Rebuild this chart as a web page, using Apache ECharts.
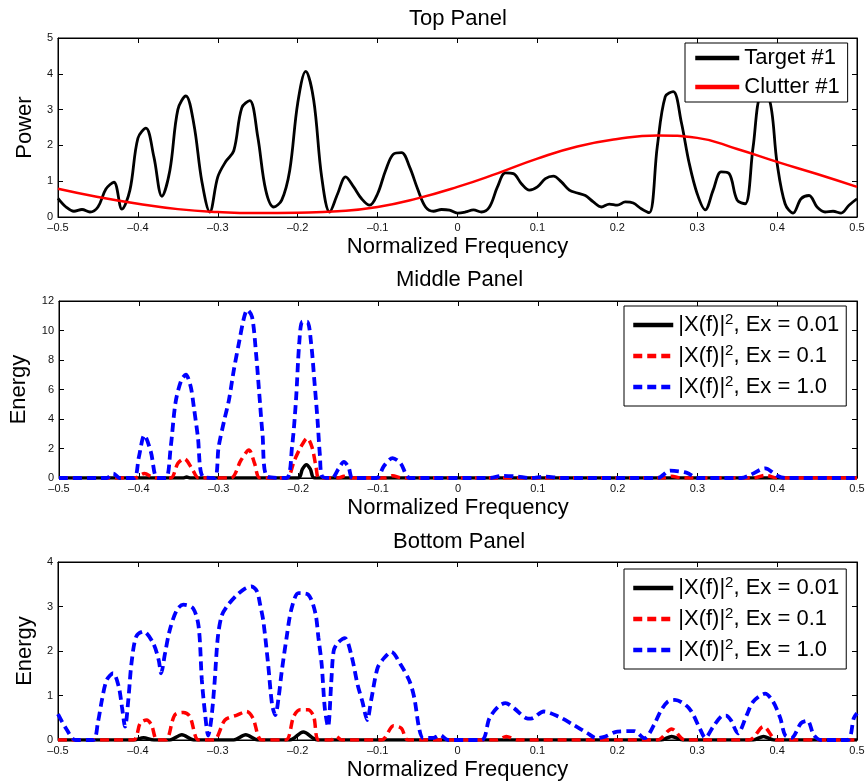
<!DOCTYPE html>
<html>
<head>
<meta charset="utf-8">
<title>Panels</title>
<script src="https://cdn.jsdelivr.net/npm/echarts@6/dist/echarts.min.js"></script>
<style>
    html, body { margin: 0; padding: 0; background: #fff; }
    #chart { width: 868px; height: 783px; }
</style>
</head>
<body>
<div id="chart"></div>
<script>
// ---- data ----
// top panel: target power on a 0.01 grid
const targetFreq = [];
for (let k = 0; k <= 100; k++) targetFreq.push(+(-0.5 + k * 0.01).toFixed(2));
const targetPower = [
    0.52, 0.28, 0.16, 0.21, 0.14, 0.28, 0.78, 0.97, 0.22, 0.75,
    2.2, 2.48, 1.68, 0.58, 1.3, 3.0, 3.38, 2.6, 1.0, 0.14,
    1.12, 1.55, 1.85, 3.05, 3.25, 2.24, 0.75, 0.28, 0.47, 1.3,
    3.18, 4.07, 3.27, 1.12, 0.14, 0.65, 1.12, 0.84, 0.51, 0.33,
    0.65, 1.3, 1.76, 1.8, 1.4, 0.79, 0.28, 0.16, 0.21, 0.19,
    0.11, 0.14, 0.2, 0.14, 0.28, 0.84, 1.23, 1.21, 0.93, 0.75,
    0.84, 1.07, 1.14, 0.98, 0.75, 0.67, 0.6, 0.42, 0.28, 0.36,
    0.33, 0.42, 0.39, 0.23, 0.12, 1.96, 3.36, 3.5, 2.66, 1.5,
    0.65, 0.2, 0.75, 1.26, 1.21, 0.47, 0.37, 1.96, 3.35, 3.3,
    1.5, 0.37, 0.11, 0.51, 0.6, 0.28, 0.14, 0.16, 0.11, 0.33,
    0.51
];
// top panel: clutter on a 0.05 grid
const clutterFreq = [-0.5, -0.45, -0.4, -0.35, -0.3, -0.25, -0.2, -0.15, -0.1, -0.05, 0,
    0.05, 0.1, 0.15, 0.2, 0.25, 0.3, 0.35, 0.4, 0.45, 0.5];
const clutterPower = [0.79, 0.56, 0.37, 0.22, 0.14, 0.11, 0.12, 0.16, 0.28, 0.52, 0.84,
    1.22, 1.63, 1.97, 2.18, 2.28, 2.21, 1.9, 1.54, 1.2, 0.84];

// middle panel: [frequency, energy]
const midEx001 = [[-0.5, 0], [-0.345, 0], [-0.34, 0.06], [-0.335, 0], [-0.2, 0], [-0.195, 0.6],
    [-0.19, 0.9], [-0.185, 0.6], [-0.18, 0], [0.5, 0]];
const midEx01 = [[-0.5, 0], [-0.405, 0], [-0.393, 0.3], [-0.38, 0], [-0.36, 0], [-0.351, 1.0],
    [-0.343, 1.3], [-0.333, 0.6], [-0.325, 0], [-0.285, 0], [-0.272, 1.2], [-0.262, 1.9],
    [-0.255, 1.0], [-0.248, 0], [-0.215, 0], [-0.205, 1.2], [-0.197, 2.1], [-0.189, 2.7],
    [-0.183, 2.1], [-0.178, 0.8], [-0.174, 0], [-0.15, 0], [-0.143, 0.12], [-0.135, 0],
    [-0.09, 0], [-0.082, 0.15], [-0.07, 0], [0.26, 0], [0.268, 0.12], [0.28, 0],
    [0.37, 0], [0.385, 0.18], [0.4, 0], [0.5, 0]];
const midEx1 = [[-0.5, 0], [-0.44, 0], [-0.432, 0.3], [-0.424, 0], [-0.406, 0], [-0.4, 1.4],
    [-0.393, 2.9], [-0.385, 1.8], [-0.377, 0], [-0.366, 0], [-0.36, 2.1], [-0.354, 5.1],
    [-0.347, 6.6], [-0.341, 7.0], [-0.335, 6.2], [-0.331, 4.8], [-0.326, 2.8], [-0.32, 0.1],
    [-0.305, 0], [-0.3, 2.1], [-0.293, 3.9], [-0.287, 5.3], [-0.281, 7.3], [-0.274, 9.3],
    [-0.268, 10.9], [-0.264, 11.4], [-0.258, 10.9], [-0.253, 8.4], [-0.249, 5.7], [-0.245, 3.0],
    [-0.239, 0.1], [-0.215, 0], [-0.208, 2.1], [-0.203, 5.3], [-0.199, 9.1], [-0.195, 10.6],
    [-0.189, 10.6], [-0.184, 9.1], [-0.18, 6.6], [-0.176, 3.9], [-0.173, 1.5], [-0.17, 0.1],
    [-0.158, 0], [-0.15, 0.6], [-0.143, 1.1], [-0.137, 0.7], [-0.132, 0], [-0.102, 0],
    [-0.093, 0.8], [-0.082, 1.35], [-0.072, 1.0], [-0.06, 0], [0.04, 0], [0.055, 0.15],
    [0.074, 0.1], [0.09, 0], [0.11, 0.1], [0.13, 0], [0.25, 0], [0.266, 0.5], [0.287, 0.35],
    [0.3, 0], [0.355, 0], [0.366, 0.2], [0.385, 0.65], [0.4, 0.15], [0.41, 0], [0.5, 0]];

// bottom panel: [frequency, energy]
const botEx001 = [[-0.5, 0], [-0.405, 0], [-0.393, 0.05], [-0.38, 0], [-0.36, 0], [-0.345, 0.12],
    [-0.33, 0], [-0.28, 0], [-0.265, 0.12], [-0.25, 0], [-0.21, 0], [-0.193, 0.18], [-0.175, 0],
    [0.255, 0], [0.268, 0.08], [0.282, 0], [0.37, 0], [0.383, 0.08], [0.396, 0], [0.5, 0]];
const botEx01 = [[-0.5, 0], [-0.406, 0], [-0.397, 0.38], [-0.389, 0.45], [-0.383, 0.34], [-0.376, 0],
    [-0.365, 0], [-0.354, 0.56], [-0.343, 0.62], [-0.335, 0.53], [-0.324, 0], [-0.305, 0],
    [-0.291, 0.45], [-0.276, 0.56], [-0.264, 0.64], [-0.256, 0.49], [-0.245, 0], [-0.215, 0],
    [-0.205, 0.53], [-0.197, 0.68], [-0.187, 0.68], [-0.18, 0.53], [-0.174, 0], [-0.158, 0],
    [-0.152, 0.08], [-0.145, 0], [-0.095, 0], [-0.08, 0.32], [-0.07, 0.26], [-0.062, 0],
    [0.05, 0], [0.061, 0.08], [0.075, 0], [0.25, 0], [0.268, 0.25], [0.285, 0],
    [0.365, 0], [0.383, 0.3], [0.4, 0], [0.5, 0]];
const botEx1 = [[-0.5, 0.58], [-0.489, 0.23], [-0.478, 0], [-0.456, 0], [-0.45, 0.4], [-0.445, 0.9],
    [-0.439, 1.35], [-0.431, 1.5], [-0.424, 1.2], [-0.42, 0.75], [-0.416, 0.3], [-0.412, 0.9],
    [-0.408, 1.73], [-0.402, 2.33], [-0.393, 2.44], [-0.381, 2.18], [-0.374, 1.8], [-0.371, 1.5],
    [-0.366, 1.95], [-0.36, 2.48], [-0.351, 2.93], [-0.343, 3.04], [-0.331, 2.96], [-0.324, 2.55],
    [-0.32, 1.35], [-0.316, 0.6], [-0.312, 0.1], [-0.308, 0.49], [-0.304, 1.3], [-0.3, 2.3],
    [-0.295, 2.8], [-0.287, 3.04], [-0.276, 3.26], [-0.266, 3.4], [-0.258, 3.45], [-0.251, 3.34],
    [-0.247, 3.04], [-0.243, 2.67], [-0.237, 1.7], [-0.232, 0.79], [-0.228, 0.56], [-0.224, 0.94],
    [-0.22, 1.54], [-0.214, 2.29], [-0.208, 2.93], [-0.199, 3.3], [-0.187, 3.27], [-0.178, 2.86],
    [-0.174, 2.29], [-0.17, 1.7], [-0.166, 0.7], [-0.162, 0.3], [-0.158, 1.3], [-0.155, 2.0],
    [-0.15, 2.18], [-0.141, 2.29], [-0.133, 1.92], [-0.125, 1.24], [-0.119, 0.86], [-0.113, 0.45],
    [-0.108, 0.9], [-0.1, 1.62], [-0.092, 1.84], [-0.083, 1.98], [-0.071, 1.69], [-0.06, 1.32],
    [-0.054, 0.94], [-0.048, 0.26], [-0.043, 0.05], [-0.03, 0.05], [-0.022, 0.11], [-0.012, 0],
    [0.03, 0], [0.04, 0.49], [0.051, 0.75], [0.06, 0.83], [0.071, 0.71], [0.086, 0.49],
    [0.092, 0.48], [0.108, 0.64], [0.126, 0.53], [0.145, 0.34], [0.163, 0.15], [0.174, 0.04],
    [0.185, 0.08], [0.2, 0.19], [0.221, 0.2], [0.234, 0.04], [0.246, 0.34], [0.254, 0.64],
    [0.263, 0.86], [0.272, 0.9], [0.29, 0.71], [0.304, 0.23], [0.31, 0.05], [0.32, 0.3],
    [0.33, 0.53], [0.336, 0.55], [0.342, 0.45], [0.351, 0.15], [0.362, 0.56], [0.37, 0.86],
    [0.385, 1.04], [0.395, 0.86], [0.404, 0.49], [0.41, 0.11], [0.418, 0.05], [0.43, 0.38],
    [0.438, 0.43], [0.446, 0.11], [0.455, 0], [0.488, 0], [0.496, 0.49], [0.5, 0.6]];

const freqTicks = { min: -0.5, max: 0.5, interval: 0.1 };
const panelTitles = ['Top Panel', 'Middle Panel', 'Bottom Panel'];
const panelYNames = ['Power', 'Energy', 'Energy'];
const panelYMax = [5, 12, 4];
const panelYStep = [1, 2, 1];
const exNames = ['|X(f)|2, Ex = 0.01', '|X(f)|2, Ex = 0.1', '|X(f)|2, Ex = 1.0'];

// ---- layout ----
const FONT = '"Liberation Sans", Arial, Helvetica, sans-serif';
const grids = [
    { left: 58, right: 11, top: 38, height: 179 },
    { left: 58, right: 11, top: 301, height: 177 },
    { left: 58, right: 11, top: 562, height: 178 }
];
const titleLeft = [409, 396, 393];
const titleTop = [8, 269, 531];
const yNameGap = [18, 29, 18];

const chart = echarts.init(document.getElementById('chart'), null, { renderer: 'canvas' });

function fmtFreq(v) {
    if (Math.abs(v) < 1e-9) return '0';
    return v.toFixed(1).replace('-', '\u2013');
}

const xAxes = [], yAxes = [];
grids.forEach((g, i) => {
    xAxes.push({
        type: 'value', gridIndex: i, position: 'bottom',
        min: freqTicks.min, max: freqTicks.max, interval: freqTicks.interval,
        name: 'Normalized Frequency', nameLocation: 'middle', nameGap: 19,
        nameTextStyle: { fontSize: 22, color: '#000', fontFamily: FONT },
        axisLine: { show: true, onZero: false, lineStyle: { color: '#000', width: 1 } },
        axisTick: { show: true, inside: true, length: 5, lineStyle: { color: '#000' } },
        axisLabel: { fontSize: 11, color: '#111', margin: 5, fontFamily: FONT, formatter: fmtFreq },
        splitLine: { show: false }
    });
    xAxes.push({
        type: 'value', gridIndex: i, position: 'top',
        min: freqTicks.min, max: freqTicks.max, interval: freqTicks.interval,
        axisLine: { show: true, onZero: false, lineStyle: { color: '#000', width: 1 } },
        axisTick: { show: true, inside: true, length: 5, lineStyle: { color: '#000' } },
        axisLabel: { show: false },
        splitLine: { show: false }
    });
    yAxes.push({
        type: 'value', gridIndex: i, position: 'left',
        min: 0, max: panelYMax[i], interval: panelYStep[i],
        name: panelYNames[i], nameLocation: 'middle', nameGap: yNameGap[i],
        nameTextStyle: { fontSize: 22, color: '#000', fontFamily: FONT },
        axisLine: { show: true, onZero: false, lineStyle: { color: '#000', width: 1 } },
        axisTick: { show: true, inside: true, length: 5, lineStyle: { color: '#000' } },
        axisLabel: { fontSize: 11, color: '#111', margin: 5, fontFamily: FONT },
        splitLine: { show: false }
    });
    yAxes.push({
        type: 'value', gridIndex: i, position: 'right',
        min: 0, max: panelYMax[i], interval: panelYStep[i],
        axisLine: { show: true, onZero: false, lineStyle: { color: '#000', width: 1 } },
        axisTick: { show: true, inside: true, length: 5, lineStyle: { color: '#000' } },
        axisLabel: { show: false },
        splitLine: { show: false }
    });
});

function zip(xs, ys) { return xs.map((x, k) => [x, ys[k]]); }

const DASH = [9, 5];
function lineSeries(name, panel, data, color, width, dashed, smooth) {
    return {
        name: name, type: 'line', xAxisIndex: panel * 2, yAxisIndex: panel * 2,
        data: data, showSymbol: false, symbol: 'none', smooth: smooth,
        clip: true, silent: true,
        lineStyle: { color: color, width: width, type: dashed ? DASH : 'solid', cap: 'butt' },
        itemStyle: { color: color }
    };
}

const series = [
    lineSeries('Target #1', 0, zip(targetFreq, targetPower), '#000', 2.8, false, 0.35),
    lineSeries('Clutter #1', 0, zip(clutterFreq, clutterPower), '#ff0000', 2.5, false, 0.5),
    lineSeries(exNames[0], 1, midEx001, '#000', 3.5, false, 0.3),
    lineSeries(exNames[1], 1, midEx01, '#ff0000', 3.5, true, 0.3),
    lineSeries(exNames[2], 1, midEx1, '#0000ff', 3.8, true, 0.3),
    lineSeries(exNames[0], 2, botEx001, '#000', 3.5, false, 0.3),
    lineSeries(exNames[1], 2, botEx01, '#ff0000', 3.5, true, 0.3),
    lineSeries(exNames[2], 2, botEx1, '#0000ff', 3.8, true, 0.3)
];

// superscript the "2" in |X(f)|2
function supFormatter(name) {
    return name.replace('|2,', '|{sup|2},');
}

const legendBase = {
    orient: 'vertical', backgroundColor: '#fff', borderColor: '#000', borderWidth: 1,
    borderRadius: 0, itemGap: 5, itemHeight: 14, selectedMode: false,
    itemStyle: { opacity: 0 },
    lineStyle: { width: 4.5 },
    textStyle: { fontSize: 22, color: '#000', fontFamily: FONT }
};

chart.setOption({
    animation: false,
    backgroundColor: '#fff',
    textStyle: { fontFamily: FONT },
    title: panelTitles.map((t, i) => ({
        text: t, left: titleLeft[i], top: titleTop[i], padding: 0,
        textStyle: { fontSize: 22, fontWeight: 'normal', color: '#000', fontFamily: FONT }
    })),
    grid: grids.map(g => Object.assign({ show: true, borderColor: '#000', borderWidth: 1,
        backgroundColor: '#fff', containLabel: false }, g)),
    xAxis: xAxes,
    yAxis: yAxes,
    legend: [
        Object.assign({}, legendBase, {
            data: ['Target #1', 'Clutter #1'], left: 685, top: 43,
            itemWidth: 44, padding: [3, 8, 3, 8],
            textStyle: Object.assign({}, legendBase.textStyle, { lineHeight: 24 })
        }),
        Object.assign({}, legendBase, {
            data: exNames, left: 624, top: 306, formatter: supFormatter,
            itemWidth: 40, padding: [6, 7, 6, 7],
            textStyle: Object.assign({}, legendBase.textStyle, {
                lineHeight: 26,
                rich: { sup: { fontSize: 15, verticalAlign: 'top', lineHeight: 14, fontFamily: FONT, color: '#000' } }
            })
        }),
        Object.assign({}, legendBase, {
            data: exNames, left: 624, top: 569, formatter: supFormatter,
            itemWidth: 40, padding: [6, 7, 6, 7],
            textStyle: Object.assign({}, legendBase.textStyle, {
                lineHeight: 26,
                rich: { sup: { fontSize: 15, verticalAlign: 'top', lineHeight: 14, fontFamily: FONT, color: '#000' } }
            })
        })
    ],
    series: series
});
</script>
</body>
</html>
